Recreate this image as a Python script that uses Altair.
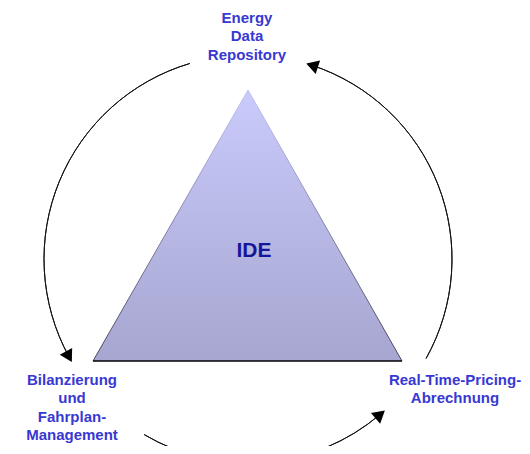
import math
import altair as alt
import pandas as pd

# ---------------- content ----------------
hub_label = "IDE"
node_lines = [
    ["Energy", "Data", "Repository"],
    ["Bilanzierung", "und", "Fahrplan-", "Management"],
    ["Real-Time-Pricing-", "Abrechnung"],
]

# ---------------- layout (screen pixels) ----------------
node_x = [247, 72, 455]
node_first_baseline = [23, 385, 384.5]
line_step = 18.4
hub_xy = [254, 257]

tri_x = [93, 248, 402]
tri_y = [361, 90, 361]

circle_center = [248, 259]
circle_r = 204
arc_start_deg = [343.4, 210.6, 119.2]
arc_end_deg = [241.4, 139.6, 18.3]

X_DOM = [8, 522]
Y_DOM = [8, 446]

text_blue = "#3838d2"
hub_blue = "#16169a"

# ---------------- tables ----------------
xs = alt.Scale(domain=X_DOM, nice=False, zero=False)
ys = alt.Scale(domain=Y_DOM, nice=False, zero=False, reverse=True)

tri_df = pd.DataFrame({"x": tri_x, "y": tri_y, "base": [tri_y[0]] * 3, "o": [0, 1, 2]})

rows = []
for lines, nx, b0 in zip(node_lines, node_x, node_first_baseline):
    for i, t in enumerate(lines):
        rows.append({"text": t, "x": nx, "y": b0 + i * line_step})
text_df = pd.DataFrame(rows)
hub_df = pd.DataFrame({"text": [hub_label], "x": [hub_xy[0]], "y": [hub_xy[1]]})

arc_df = pd.DataFrame({
    "x": [circle_center[0]] * 3,
    "y": [circle_center[1]] * 3,
    "t0": [math.radians(a) for a in arc_start_deg],
    "t1": [math.radians(a) for a in arc_end_deg],
})

arrows = []
for a in arc_end_deg:
    t = math.radians(a)
    ax = circle_center[0] + circle_r * math.sin(t)
    ay = circle_center[1] - circle_r * math.cos(t)
    # travel direction (theta decreasing)
    dx, dy = -math.cos(t), -math.sin(t)
    ang = math.degrees(math.atan2(dx, -dy)) % 360
    arrows.append({"x": ax, "y": ay, "ang": ang})
arrow_df = pd.DataFrame(arrows)

# ---------------- marks ----------------
fill_grad = alt.Gradient(
    gradient="linear",
    stops=[alt.GradientStop(color="#cacafc", offset=0),
           alt.GradientStop(color="#a6a6d0", offset=1)],
    x1=0, x2=0, y1=0, y2=1,
)
edge_grad = alt.Gradient(
    gradient="linear",
    stops=[alt.GradientStop(color="#c4c4f4", offset=0),
           alt.GradientStop(color="#44445a", offset=1)],
    x1=0, x2=0, y1=0, y2=1,
)

tri = alt.Chart(tri_df).mark_area(color=fill_grad, interpolate="linear").encode(
    x=alt.X("x:Q", scale=xs, axis=None),
    y=alt.Y("y:Q", scale=ys, axis=None),
    y2="base:Q",
)
edges = alt.Chart(tri_df).mark_line(color=edge_grad, strokeWidth=1).encode(
    x=alt.X("x:Q", scale=xs, axis=None),
    y=alt.Y("y:Q", scale=ys, axis=None),
    order="o:Q",
)
base = alt.Chart(tri_df).transform_filter("datum.o != 1").mark_line(
    color="black", strokeWidth=1.5
).encode(
    x=alt.X("x:Q", scale=xs, axis=None),
    y=alt.Y("y:Q", scale=ys, axis=None),
)

arcs = alt.Chart(arc_df).mark_arc(
    radius=circle_r, radius2=circle_r, fillOpacity=0, stroke="#111111", strokeWidth=1
).encode(
    x=alt.X("x:Q", scale=xs, axis=None),
    y=alt.Y("y:Q", scale=ys, axis=None),
    theta=alt.Theta("t0:Q", scale=None, stack=False),
    theta2="t1:Q",
)

heads = alt.Chart(arrow_df).mark_point(
    shape="triangle-up", filled=True, color="black", opacity=1, size=200
).encode(
    x=alt.X("x:Q", scale=xs, axis=None),
    y=alt.Y("y:Q", scale=ys, axis=None),
    angle=alt.Angle("ang:Q", scale=None),
)

labels = alt.Chart(text_df).mark_text(
    font="Liberation Sans", fontWeight="bold", fontSize=15, color=text_blue,
    align="center", baseline="alphabetic"
).encode(
    x=alt.X("x:Q", scale=xs, axis=None),
    y=alt.Y("y:Q", scale=ys, axis=None),
    text="text:N",
)

hub = alt.Chart(hub_df).mark_text(
    font="Liberation Sans", fontWeight="bold", fontSize=21, color=hub_blue,
    align="center", baseline="alphabetic"
).encode(
    x=alt.X("x:Q", scale=xs, axis=None),
    y=alt.Y("y:Q", scale=ys, axis=None),
    text="text:N",
)

chart = alt.layer(tri, edges, base, arcs, heads, labels, hub).properties(
    width=514, height=438, padding=0,
    autosize=alt.AutoSizeParams(type="none"),
    background="white",
).configure_view(strokeWidth=0)

chart.save("out.html", embed_options={"renderer": "svg", "actions": False})
